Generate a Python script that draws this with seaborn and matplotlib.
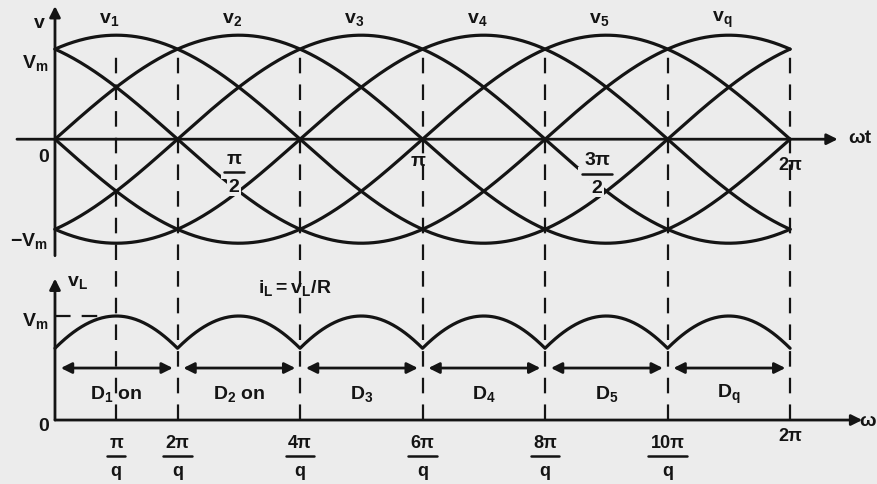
import numpy as np
import pandas as pd
import seaborn as sns
from matplotlib import pyplot as plt

# %% Data (q = 6 phases, voltages in units of Vm)

q = 6
phase_labels = ['1', '2', '3', '4', '5', 'q']
phase_peaks = [np.pi / 6, np.pi / 2, 5 * np.pi / 6,
               7 * np.pi / 6, 3 * np.pi / 2, 11 * np.pi / 6]   # peak of v_k
amplitude = 1.0                                              # Vm
vl_dip = 0.69                                                # drawn dip of v_L
diode_labels = ['$\\mathregular{D_1}$ on', '$\\mathregular{D_2}$ on',
                '$\\mathregular{D_3}$', '$\\mathregular{D_4}$',
                '$\\mathregular{D_5}$', '$\\mathregular{D_q}$']
bottom_ticks = [np.pi / 6, 2 * np.pi / 6, 4 * np.pi / 6,
                6 * np.pi / 6, 8 * np.pi / 6, 10 * np.pi / 6]
bottom_tick_num = ['π', '2π', '4π', '6π', '8π', '10π']
boundaries = [0, 2 * np.pi / 6, 4 * np.pi / 6, np.pi,
              8 * np.pi / 6, 10 * np.pi / 6, 2 * np.pi]

# %% Build curves

wt = np.linspace(0, 2 * np.pi, 721)
rows = []
for lab, pk in zip(phase_labels, phase_peaks):
    rows.append(pd.DataFrame({'wt': wt, 'v': amplitude * np.cos(wt - pk), 'phase': lab}))
dfPhases = pd.concat(rows, ignore_index=True)

# v_L : each diode conducts around its own peak
nearest = np.array(phase_peaks)[np.argmin(
    np.abs(wt[:, None] - np.array(phase_peaks)[None, :]), axis=1)]
k = np.arccos(vl_dip) / (np.pi / q)
dfLoad = pd.DataFrame({'wt': wt, 'vL': amplitude * np.cos(k * (wt - nearest))})

# %% Figure

BG = '#ececec'
INK = '#141414'
top = 2.70   # vertical offset of the upper diagram

sns.set_theme(style='white')
plt.rcParams['font.family'] = ['Liberation Sans', 'DejaVu Sans']
plt.rcParams['font.weight'] = 'bold'
plt.rcParams['mathtext.fontset'] = 'custom'
plt.rcParams['mathtext.rm'] = 'Liberation Sans:bold'
plt.rcParams['mathtext.it'] = 'Liberation Sans:bold'

fig = plt.figure(figsize=(8.77, 4.85), dpi=100, facecolor=BG)
ax = fig.add_axes([0, 0, 1, 1])
ax.set_facecolor(BG)
ax.set_xlim(-0.470, 7.026)
ax.set_ylim(-0.615, 4.048)
ax.axis('off')

dfPhases['vt'] = dfPhases['v'] + top
sns.lineplot(data=dfPhases, x='wt', y='vt', hue='phase', units='phase',
             estimator=None, palette=[INK] * 6, legend=False, lw=2.3, ax=ax,
             zorder=2)
sns.lineplot(data=dfLoad, x='wt', y='vL', color=INK, lw=2.3, ax=ax, zorder=2)

# axes with arrows
def arrow(x0, y0, x1, y1):
    ax.annotate('', xy=(x1, y1), xytext=(x0, y0),
                arrowprops=dict(arrowstyle='-|>', lw=2.0, color=INK,
                                mutation_scale=16, shrinkA=0, shrinkB=0),
                zorder=3)

arrow(-0.325, top, 6.69, top)
arrow(0, top - 1.12, 0, top + 1.28)
arrow(0, 0, 6.90, 0)
arrow(0, 0, 0, 1.36)

# dashed verticals
for xv in [np.pi / 6] + boundaries[1:]:
    ax.plot([xv, xv], [0, top + 0.85], color=INK, lw=1.6,
            dashes=(7, 5), zorder=1)
ax.plot([0, 0.40], [1, 1], color=INK, lw=1.6, dashes=(7, 5), zorder=1)

fs = 14
txt = dict(color=INK, fontsize=fs)

# conduction arrows
for i, lab in enumerate(diode_labels):
    a, b = boundaries[i], boundaries[i + 1]
    ax.annotate('', xy=(b - 0.04, 0.50), xytext=(a + 0.05, 0.50),
                arrowprops=dict(arrowstyle='<|-|>', lw=2.0, color=INK,
                                mutation_scale=16, shrinkA=0, shrinkB=0))
    ax.text((a + b) / 2, 0.26, lab, ha='center', va='center', **txt)


def frac(x, y, num, den, size=13, bg=False):
    box = dict(boxstyle='square,pad=0.08', fc=BG, ec='none') if bg else None
    t = ax.text(x, y, num, ha='center', va='bottom', fontsize=size,
                color=INK, bbox=box, zorder=4)
    ax.text(x, y - 0.10, den, ha='center', va='top', fontsize=size,
            color=INK, bbox=box, zorder=4)
    fig.canvas.draw()
    bb = t.get_window_extent().transformed(ax.transData.inverted())
    w = (bb.x1 - bb.x0) / 2 + 0.02
    if bg:
        ax.fill_between([x - w - 0.03, x + w + 0.03], y - 0.11, y + 0.01,
                        color=BG, zorder=3.5, lw=0)
    ax.plot([x - w, x + w], [y - 0.05, y - 0.05], color=INK, lw=1.8,
            zorder=4.5)

# upper diagram labels
ax.text(-0.13, top + 1.12, 'v', ha='center', va='center', **txt)
for lab, pk in zip(phase_labels, phase_peaks):
    ax.text(pk - 0.06, top + 1.16, f'$\\mathregular{{v_{lab}}}$',
            ha='center', va='center', **txt)
ax.text(-0.06, top + 0.74, '$\\mathregular{V_m}$', ha='right', va='center', **txt)
ax.text(-0.10, top - 0.17, '0', ha='center', va='center', **txt)
ax.text(-0.06, top - 0.97, '$\\mathregular{-V_m}$', ha='right', va='center', **txt)
ax.text(np.pi - 0.04, top - 0.20, 'π', ha='center', va='center', **txt)
ax.text(2 * np.pi, top - 0.24, '2π', ha='center', va='center', fontsize=13, color=INK)
ax.text(6.78, top + 0.02, 'ωt', ha='left', va='center', **txt)
frac(np.pi / 2 - 0.04, top - 0.27, 'π', '2', size=14, bg=True)
frac(3 * np.pi / 2 - 0.08, top - 0.28, '3π', '2', size=14, bg=True)

# lower diagram labels
ax.text(0.10, 1.33, '$\\mathregular{v_L}$', ha='left', va='center', **txt)
ax.text(-0.06, 0.96, '$\\mathregular{V_m}$', ha='right', va='center', **txt)
ax.text(-0.10, -0.05, '0', ha='center', va='center', **txt)
ax.text(2.05, 1.28, '$\\mathregular{i_L = v_L/R}$', ha='center', va='center', **txt)
ax.text(7.02, 0.0, 'ω', ha='right', va='center', **txt)
for xv, num in zip(bottom_ticks, bottom_tick_num):
    frac(xv, -0.30, num, 'q')
ax.text(2 * np.pi, -0.15, '2π', ha='center', va='center', fontsize=13, color=INK)

fig.savefig('out.png', dpi=100, facecolor=BG)
